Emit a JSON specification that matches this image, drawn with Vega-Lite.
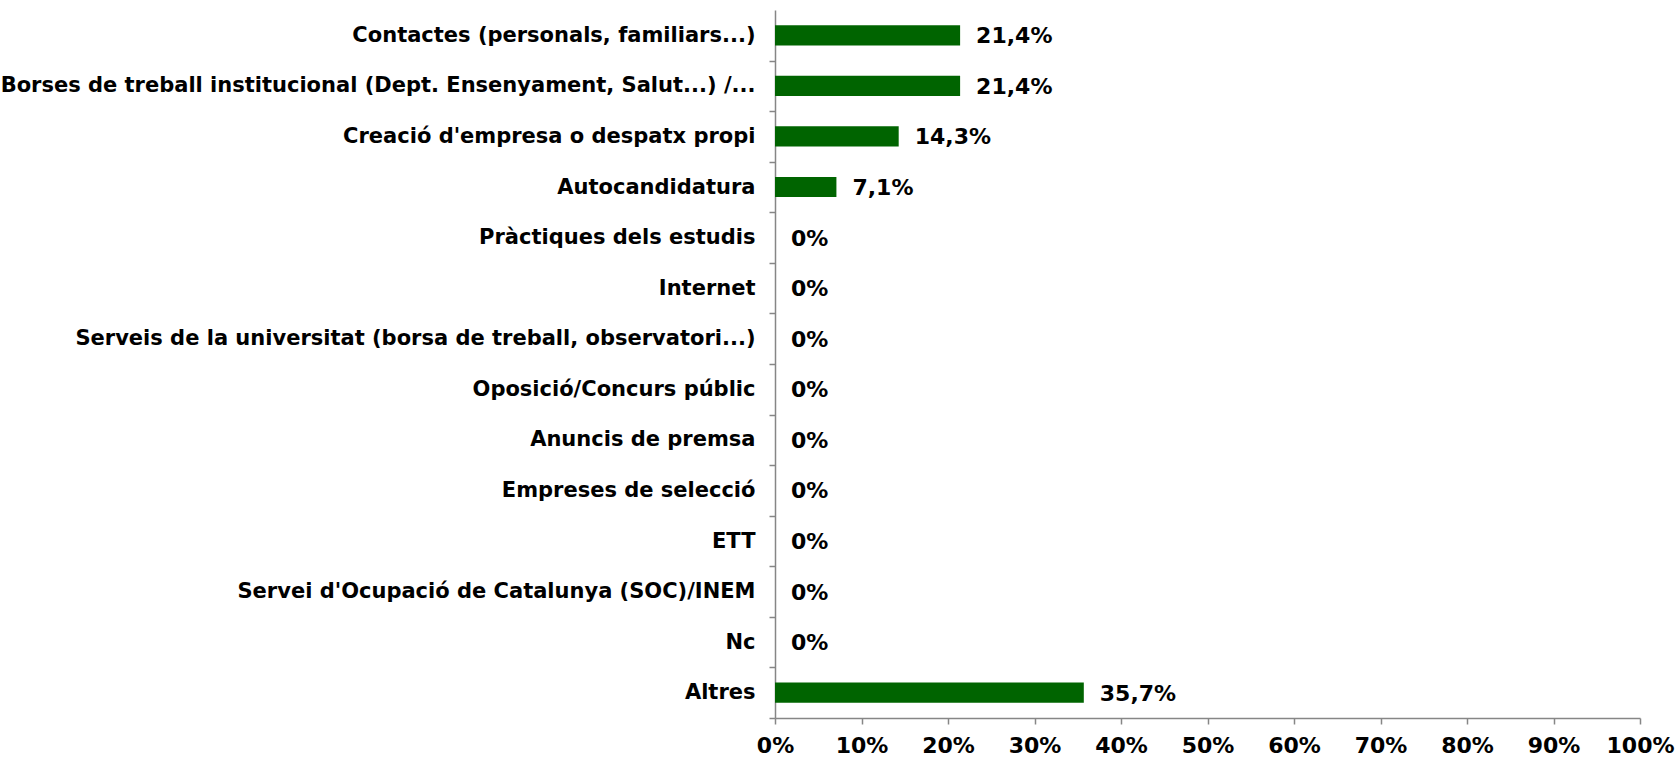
{
  "$schema": "https://vega.github.io/schema/vega-lite/v6.json",
  "width": 865,
  "height": 708,
  "autosize": {"type": "none"},
  "padding": {"left": 775, "top": 10, "right": 36, "bottom": 40},
  "background": "white",
  "config": {"view": {"stroke": null}, "font": "DejaVu Sans"},
  "data": {
    "values": [
      {"cat": "Contactes (personals, familiars...)", "v": 0.214, "label": "21,4%"},
      {"cat": "Borses de treball institucional (Dept. Ensenyament, Salut...) /...", "v": 0.214, "label": "21,4%"},
      {"cat": "Creació d'empresa o despatx propi", "v": 0.143, "label": "14,3%"},
      {"cat": "Autocandidatura", "v": 0.071, "label": "7,1%"},
      {"cat": "Pràctiques dels estudis", "v": 0, "label": "0%"},
      {"cat": "Internet", "v": 0, "label": "0%"},
      {"cat": "Serveis de la universitat (borsa de treball, observatori...)", "v": 0, "label": "0%"},
      {"cat": "Oposició/Concurs públic", "v": 0, "label": "0%"},
      {"cat": "Anuncis de premsa", "v": 0, "label": "0%"},
      {"cat": "Empreses de selecció", "v": 0, "label": "0%"},
      {"cat": "ETT", "v": 0, "label": "0%"},
      {"cat": "Servei d'Ocupació de Catalunya (SOC)/INEM", "v": 0, "label": "0%"},
      {"cat": "Nc", "v": 0, "label": "0%"},
      {"cat": "Altres", "v": 0.357, "label": "35,7%"}
    ]
  },
  "encoding": {
    "y": {
      "field": "cat",
      "type": "nominal",
      "sort": null,
      "title": null,
      "scale": {"paddingInner": 0.6, "paddingOuter": 0.3},
      "axis": {
        "domainColor": "#868686",
        "domainWidth": 1.5,
        "tickColor": "#868686",
        "tickWidth": 1.5,
        "tickSize": 6,
        "tickOffset": 25.29,
        "labelOffset": -25.29,
        "labelFont": "DejaVu Sans",
        "labelFontWeight": "bold",
        "labelFontSize": 21,
        "labelColor": "black",
        "labelPadding": 14,
        "labelLimit": 0
      }
    },
    "x": {
      "field": "v",
      "type": "quantitative",
      "title": null,
      "scale": {"domain": [0, 1], "nice": false},
      "axis": {
        "values": [0, 0.1, 0.2, 0.3, 0.4, 0.5, 0.6, 0.7, 0.8, 0.9, 1],
        "format": ".0%",
        "grid": false,
        "domainColor": "#868686",
        "domainWidth": 1.5,
        "tickColor": "#868686",
        "tickWidth": 1.5,
        "tickSize": 6,
        "labelFont": "DejaVu Sans",
        "labelFontWeight": "bold",
        "labelFontSize": 22,
        "labelColor": "black",
        "labelPadding": 11,
        "labelFlush": false,
        "labelOverlap": false
      }
    }
  },
  "layer": [
    {"mark": {"type": "bar", "color": "#006400", "strokeWidth": 0}},
    {
      "mark": {"type": "text", "align": "left", "baseline": "middle", "dx": 16, "dy": 1, "font": "DejaVu Sans", "fontWeight": "bold", "fontSize": 22, "color": "black"},
      "encoding": {"text": {"field": "label"}}
    }
  ]
}
